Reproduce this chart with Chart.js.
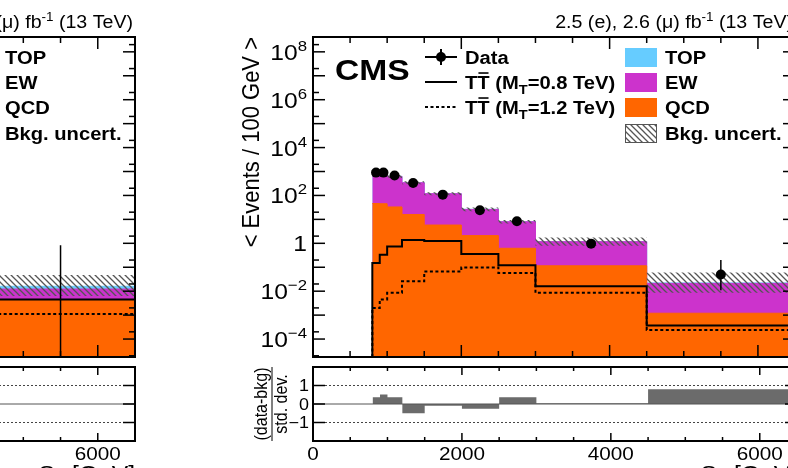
<!DOCTYPE html>
<html>
<head>
<meta charset="utf-8">
<title>S_T distribution</title>
<script src="https://cdn.jsdelivr.net/npm/chart.js@4.4.1/dist/chart.umd.min.js"></script>
<style>
  html, body { margin: 0; padding: 0; background: #fff; overflow: hidden; }
  body { width: 788px; height: 468px; position: relative; }
  canvas { position: absolute; }
  #leftMain { left: -360px; top: 0; }
  #leftRatio { left: -360px; top: 362px; }
  #rightMain { left: 230px; top: 0; }
  #rightRatio { left: 230px; top: 362px; }
</style>
</head>
<body>
<canvas id="leftMain" width="500" height="362"></canvas>
<canvas id="leftRatio" width="500" height="106"></canvas>
<canvas id="rightMain" width="570" height="362"></canvas>
<canvas id="rightRatio" width="570" height="106"></canvas>
<script>
// S_T bins [GeV], values are < events / 100 GeV >
const binEdges = [800, 900, 1000, 1200, 1500, 2000, 2500, 3000, 4500, 6500];
const binCenters = [850, 950, 1100, 1350, 1750, 2250, 2750, 3750, 5500];

const qcdBkg = [46, 45, 33, 16, 5.8, 2.1, 0.62, 0.115, 0.0012];
const ewBkg = [800, 800, 590, 322, 112, 24, 7.3, 1.05, 0.02];
const topBkg = [6, 6, 5, 3, 1.2, 0.3, 0.08, 0.02, 0.001];
const bkgBandHi = [1000, 1000, 720, 390, 137, 31, 9.4, 1.75, 0.06];
const bkgBandLo = [720, 720, 540, 295, 102, 22, 6.8, 0.8, 0.0085];

const dataVals = [900, 900, 680, 330, 108, 24, 8.4, 0.97, 0.05];
const dataErrLo = [30, 30, 18, 10, 4.6, 2.2, 1.3, 0.25, 0.039];
const dataErrHi = [30, 30, 18, 10, 4.6, 2.2, 1.4, 0.3, 0.15];

const sigM800 = [0.15, 0.33, 0.73, 1.37, 1.25, 0.36, 0.12, 0.016, 0.00037];
const sigM1200 = [0.002, 0.0045, 0.0085, 0.026, 0.066, 0.098, 0.057, 0.0085, 0.00024];

const pullVals = [0.36, 0.52, 0.36, -0.5, -0.1, -0.25, 0.36, 0.04, 0.8];

// left panel: only its last bin is inside the picture
const leftEdges = [4500, 6500];
const leftCenters = [5500];
const leftQcd = [0.0045];
const leftEw = [0.0078];
const leftTop = [0.0037];
const leftBandHi = [0.047];
const leftBandLo = [0.0063];
const leftData = [0];
const leftErrLo = [0];
const leftErrHi = [0.83];
const leftSigM800 = [0.0045];
const leftSigM1200 = [0.0011];
const leftPull = [0];

// axes
const xTickLabels = [0, 2000, 4000, 6000];
const yTickExps = [8, 6, 4, 2, 0, -2, -4];
const pullTicks = [1, 0, -1];
const bkgLegend = ['TOP', 'EW', 'QCD', 'Bkg. uncert.'];

const X_MIN = 0, X_MAX = 6500, X_MINOR = 500, X_MAJOR = 2000;
const Y_MIN = Math.pow(10, -4.75), Y_MAX = Math.pow(10, 8.62);

const C_TOP = '#66ccff', C_EW = '#cc33cc', C_QCD = '#ff6600', C_PULL = '#6b6b6b';
const FONT = '"Liberation Sans", Arial, Helvetica, sans-serif';
const SX = 1.12; // the figure is a bit wider than tall

function makeHatch() {
    const c = document.createElement('canvas');
    c.width = 6; c.height = 6;
    const g = c.getContext('2d');
    g.strokeStyle = '#555';
    g.lineWidth = 1.3;
    g.beginPath();
    g.moveTo(0, 0); g.lineTo(6, 6);
    g.moveTo(-1, 5); g.lineTo(1, 7);
    g.moveTo(5, -1); g.lineTo(7, 1);
    g.stroke();
    return g.createPattern(c, 'repeat');
}
const hatch = makeHatch();

function stepPoints(edges, vals, fromFloor) {
    const pts = [];
    if (fromFloor) pts.push({ x: edges[0], y: Y_MIN });
    vals.forEach((v, i) => pts.push({ x: edges[i], y: v }));
    pts.push({ x: edges[edges.length - 1], y: vals[vals.length - 1] });
    return pts;
}

function cumulate(...series) {
    return series[0].map((_, i) => series.reduce((s, a) => s + a[i], 0));
}

function seg(ctx, x0, y0, x1, y1) {
    ctx.beginPath(); ctx.moveTo(x0, y0); ctx.lineTo(x1, y1); ctx.stroke();
}

function drawText(ctx, runs, x, y, o) {
    const sx = o.sx === undefined ? SX : o.sx;
    const rs = runs.map(r => Object.assign({ size: o.size, bold: o.bold }, typeof r === 'string' ? { t: r } : r));
    const font = r => (r.bold ? 'bold ' : '') + r.size + 'px ' + FONT;
    const ws = rs.map(r => { ctx.font = font(r); return ctx.measureText(r.t).width * sx; });
    const w = ws.reduce((s, v) => s + v, 0);
    let cx = o.align === 'right' ? x - w : o.align === 'center' ? x - w / 2 : x;
    ctx.fillStyle = '#000';
    ctx.textAlign = 'left';
    ctx.textBaseline = 'alphabetic';
    rs.forEach((r, i) => {
        ctx.save();
        ctx.font = font(r);
        ctx.translate(cx, y + (r.dy || 0));
        ctx.scale(sx, 1);
        ctx.fillText(r.t, 0, 0);
        if (r.over) {
            ctx.strokeStyle = '#000';
            ctx.lineWidth = 1.6;
            const oy = -r.size * 0.86;
            seg(ctx, 1, oy, ws[i] / sx - 1, oy);
        }
        ctx.restore();
        cx += ws[i];
    });
}

function drawRotated(ctx, runs, x, y, o) {
    ctx.save();
    ctx.translate(x, y);
    ctx.rotate(-Math.PI / 2);
    ctx.scale(1, SX);
    drawText(ctx, runs, 0, 0, Object.assign({ sx: 1 }, o));
    ctx.restore();
}

function drawXTicks(ctx, a, x, lenMaj, lenMin) {
    for (let v = X_MIN; v <= X_MAX; v += X_MINOR) {
        const px = x.getPixelForValue(v);
        const len = v % X_MAJOR === 0 ? lenMaj : lenMin;
        seg(ctx, px, a.bottom, px, a.bottom - len);
        seg(ctx, px, a.top, px, a.top + len);
    }
}

function drawHeader(ctx, a) {
    drawText(ctx, ['2.5 (e), 2.6 (\u03bc) fb', { t: '-1', size: 12, dy: -7 }, ' (13 TeV)'],
        a.right - 2, 28, { size: 17.5, align: 'right' });
}

function drawLegend(ctx, a) {
    const lx0 = a.left + 112, lx1 = a.left + 144, lm = (lx0 + lx1) / 2, ltx = a.left + 152;
    const rows = [a.top + 20, a.top + 45, a.top + 70, a.top + 96];
    ctx.strokeStyle = '#000';
    ctx.lineWidth = 2;
    seg(ctx, lx0, rows[0], lx1, rows[0]);
    seg(ctx, lm, rows[0] - 8, lm, rows[0] + 8);
    ctx.fillStyle = '#000';
    ctx.beginPath(); ctx.arc(lm, rows[0], 5, 0, Math.PI * 2); ctx.fill();
    seg(ctx, lx0, rows[1], lx1, rows[1]);
    ctx.setLineDash([3, 2.5]);
    seg(ctx, lx0, rows[2], lx1, rows[2]);
    ctx.setLineDash([]);
    const lf = { size: 18, bold: true };
    drawText(ctx, ['Data'], ltx, rows[0] + 6.5, lf);
    drawText(ctx, ['T', { t: 'T', over: true }, ' (M', { t: 'T', size: 13, dy: 5 }, '=0.8 TeV)'], ltx, rows[1] + 6.5, lf);
    drawText(ctx, ['T', { t: 'T', over: true }, ' (M', { t: 'T', size: 13, dy: 5 }, '=1.2 TeV)'], ltx, rows[2] + 6.5, lf);

    const bx0 = a.right - 170, bw = 32, rtx = a.right - 130;
    const fills = [C_TOP, C_EW, C_QCD, hatch];
    bkgLegend.forEach((name, i) => {
        const cy = rows[i] + 0.5;
        ctx.fillStyle = fills[i];
        ctx.fillRect(bx0, cy - 9.5, bw, 19);
        if (i === 3) {
            ctx.strokeStyle = '#555';
            ctx.lineWidth = 1;
            ctx.strokeRect(bx0 + 0.5, cy - 9, bw - 1, 18);
        }
        drawText(ctx, [name], rtx, rows[i] + 6.5, lf);
    });
}

function mainDecor(chart) {
    const { ctx, chartArea: a, scales: { x, y } } = chart;
    ctx.save();
    ctx.strokeStyle = '#000';
    ctx.lineWidth = 1.5;
    drawXTicks(ctx, a, x, 12, 6);
    for (let e = -5; e <= 8; e++) {
        [[1, 12], [2, 6]].forEach(([m, len]) => {
            const v = m * Math.pow(10, e);
            if (v < Y_MIN || v > Y_MAX) return;
            const py = y.getPixelForValue(v);
            seg(ctx, a.left, py, a.left + len, py);
            seg(ctx, a.right, py, a.right - len, py);
        });
    }
    ctx.lineWidth = 2;
    ctx.strokeRect(a.left, a.top, a.right - a.left, a.bottom - a.top);

    yTickExps.forEach(e => {
        const py = y.getPixelForValue(Math.pow(10, e));
        const runs = e === 0 ? ['1'] : ['10', { t: e < 0 ? '\u2212' + (-e) : String(e), size: 15, dy: -9 }];
        drawText(ctx, runs, a.left - 6, py + 8, { size: 22, align: 'right' });
    });
    drawRotated(ctx, ['< Events / 100 GeV >'], a.left - 54, a.top, { size: 22, align: 'right' });

    drawHeader(ctx, a);
    drawText(ctx, ['CMS'], a.left + 22, a.top + 43, { size: 30, bold: true });
    drawLegend(ctx, a);
    ctx.restore();
}

function drawErrors(chart, d) {
    const { ctx, chartArea: a, scales: { x, y } } = chart;
    ctx.save();
    ctx.beginPath();
    ctx.rect(a.left, a.top, a.right - a.left, a.bottom - a.top);
    ctx.clip();
    ctx.strokeStyle = '#000';
    ctx.lineWidth = 1.5;
    d.centers.forEach((c, i) => {
        const v = d.vals[i];
        const px = x.getPixelForValue(c);
        const yHi = y.getPixelForValue(v + d.hi[i]);
        const yLo = v - d.lo[i] > 0 ? y.getPixelForValue(v - d.lo[i]) : a.bottom;
        seg(ctx, px, yLo, px, yHi);
    });
    ctx.restore();
}

function ratioDecor(chart) {
    const { ctx, chartArea: a, scales: { x, y } } = chart;
    ctx.save();
    ctx.strokeStyle = '#444';
    ctx.lineWidth = 1;
    ctx.setLineDash([2, 2]);
    [1, -1].forEach(v => seg(ctx, a.left, y.getPixelForValue(v), a.right, y.getPixelForValue(v)));
    ctx.setLineDash([]);
    ctx.strokeStyle = '#555';
    seg(ctx, a.left, y.getPixelForValue(0), a.right, y.getPixelForValue(0));

    ctx.strokeStyle = '#000';
    ctx.lineWidth = 1.5;
    drawXTicks(ctx, a, x, 8, 4);
    pullTicks.forEach(v => {
        const py = y.getPixelForValue(v);
        seg(ctx, a.left, py, a.left + 12, py);
        seg(ctx, a.right, py, a.right - 12, py);
    });
    ctx.lineWidth = 2;
    ctx.strokeRect(a.left, a.top, a.right - a.left, a.bottom - a.top);

    pullTicks.forEach(v => {
        const t = v < 0 ? '\u2212' + (-v) : String(v);
        drawText(ctx, [t], a.left - 4, y.getPixelForValue(v) + 5.7, { size: 16, align: 'right' });
    });
    xTickLabels.forEach(v => {
        drawText(ctx, [String(v)], x.getPixelForValue(v), a.bottom + 19, { size: 18.5, align: 'center' });
    });
    drawText(ctx, ['S', { t: 'T', size: 15, dy: 5 }, ' [GeV]'], a.right, a.bottom + 40, { size: 22, align: 'right' });

    const cy = (a.top + a.bottom) / 2;
    drawRotated(ctx, ['(data-bkg)'], a.left - 46, cy, { size: 16, align: 'center' });
    drawRotated(ctx, ['std. dev.'], a.left - 26, cy, { size: 16, align: 'center' });
    ctx.strokeStyle = '#000';
    ctx.lineWidth = 1;
    seg(ctx, a.left - 41, cy - 37, a.left - 41, cy + 37);
    ctx.restore();
}

function mainChart(id, p, padding) {
    const ewCum = cumulate(p.qcd, p.ew);
    const allCum = cumulate(p.qcd, p.ew, p.top);
    const fillSet = (vals, color, order) => ({
        data: stepPoints(p.edges, vals), stepped: true, pointRadius: 0,
        borderColor: color, borderWidth: 1, backgroundColor: color, fill: 'start', order
    });
    const errs = { centers: p.centers, vals: p.data, lo: p.errLo, hi: p.errHi };
    return new Chart(document.getElementById(id), {
        type: 'line',
        data: {
            datasets: [
                {
                    label: 'Data', showLine: false, order: 0,
                    data: p.centers.map((c, i) => ({ x: c, y: p.data[i] > 0 ? p.data[i] : null })),
                    pointRadius: 5, pointBorderWidth: 0, pointBackgroundColor: '#000', pointBorderColor: '#000'
                },
                {
                    label: 'M800', data: stepPoints(p.edges, p.sig800, true), stepped: true, order: 1,
                    borderColor: '#000', borderWidth: 2, pointRadius: 0, fill: false
                },
                {
                    label: 'M1200', data: stepPoints(p.edges, p.sig1200, true), stepped: true, order: 2,
                    borderColor: '#000', borderWidth: 2, borderDash: [3, 2.5], pointRadius: 0, fill: false
                },
                {
                    label: 'Bkg. uncert.', data: stepPoints(p.edges, p.bandHi), stepped: true, order: 3,
                    borderColor: 'rgba(0,0,0,0)', borderWidth: 0, pointRadius: 0, fill: '+1', backgroundColor: hatch
                },
                {
                    label: 'band low', data: stepPoints(p.edges, p.bandLo), stepped: true, order: 4,
                    borderColor: 'rgba(0,0,0,0)', borderWidth: 0, pointRadius: 0, fill: false
                },
                Object.assign({ label: 'QCD' }, fillSet(p.qcd, C_QCD, 5)),
                Object.assign({ label: 'EW' }, fillSet(ewCum, C_EW, 6)),
                Object.assign({ label: 'TOP' }, fillSet(allCum, C_TOP, 7))
            ]
        },
        options: {
            responsive: false, animation: false, events: [],
            layout: { padding },
            scales: {
                x: { type: 'linear', min: X_MIN, max: X_MAX, display: false },
                y: { type: 'logarithmic', min: Y_MIN, max: Y_MAX, display: false }
            },
            plugins: { legend: { display: false }, tooltip: { enabled: false } }
        },
        plugins: [{
            id: 'decor',
            afterDatasetsDraw: chart => drawErrors(chart, errs),
            afterDraw: mainDecor
        }]
    });
}

function ratioChart(id, edges, pulls, padding) {
    return new Chart(document.getElementById(id), {
        type: 'line',
        data: {
            datasets: [{
                label: 'pull', data: stepPoints(edges, pulls), stepped: true, pointRadius: 0,
                borderColor: 'rgba(0,0,0,0)', borderWidth: 0, backgroundColor: C_PULL, fill: 'origin'
            }]
        },
        options: {
            responsive: false, animation: false, events: [],
            layout: { padding },
            scales: {
                x: { type: 'linear', min: X_MIN, max: X_MAX, display: false },
                y: { type: 'linear', min: -2, max: 2, display: false }
            },
            plugins: { legend: { display: false }, tooltip: { enabled: false } }
        },
        plugins: [{ id: 'decor', afterDraw: ratioDecor }]
    });
}

document.addEventListener('DOMContentLoaded', function () {
    mainChart('leftMain', {
        edges: leftEdges, centers: leftCenters, qcd: leftQcd, ew: leftEw, top: leftTop,
        bandHi: leftBandHi, bandLo: leftBandLo, data: leftData, errLo: leftErrLo, errHi: leftErrHi,
        sig800: leftSigM800, sig1200: leftSigM1200
    }, { left: 11, right: 5, top: 37, bottom: 3 });
    ratioChart('leftRatio', leftEdges, leftPull, { left: 11, right: 5, top: 5, bottom: 27 });

    mainChart('rightMain', {
        edges: binEdges, centers: binCenters, qcd: qcdBkg, ew: ewBkg, top: topBkg,
        bandHi: bkgBandHi, bandLo: bkgBandLo, data: dataVals, errLo: dataErrLo, errHi: dataErrHi,
        sig800: sigM800, sig1200: sigM1200
    }, { left: 83, right: 3, top: 37, bottom: 3 });
    ratioChart('rightRatio', binEdges, pullVals, { left: 83, right: 3, top: 5, bottom: 27 });
});
</script>
</body>
</html>
